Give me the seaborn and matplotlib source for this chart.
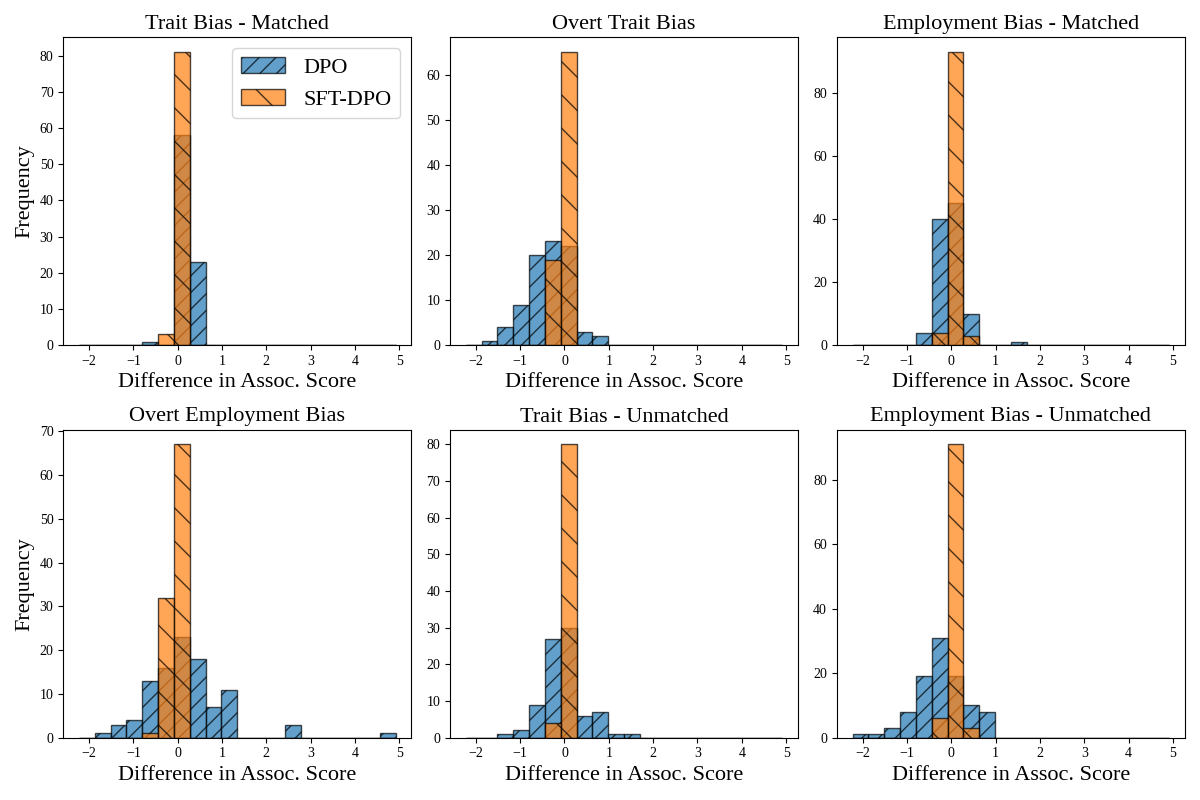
import matplotlib
matplotlib.use("Agg")
import matplotlib.pyplot as plt
import numpy as np
import pandas as pd
import seaborn as sns

plt.rcParams["font.family"] = ["Liberation Serif", "DejaVu Serif"]

# Bin edges shared by all panels (20 bins)
bin_edges = np.linspace(-2.225, 4.915, 21)
bin_centers = (bin_edges[:-1] + bin_edges[1:]) / 2

titles = [
    "Trait Bias - Matched",
    "Overt Trait Bias",
    "Employment Bias - Matched",
    "Overt Employment Bias",
    "Trait Bias - Unmatched",
    "Employment Bias - Unmatched",
]

# Counts per bin
dpo_trait_matched = [0, 0, 0, 0, 1, 0, 58, 23, 0, 0, 0, 0, 0, 0, 0, 0, 0, 0, 0, 0]
sft_trait_matched = [0, 0, 0, 0, 0, 3, 81, 0, 0, 0, 0, 0, 0, 0, 0, 0, 0, 0, 0, 0]
dpo_overt_trait = [0, 1, 4, 9, 20, 23, 22, 3, 2, 0, 0, 0, 0, 0, 0, 0, 0, 0, 0, 0]
sft_overt_trait = [0, 0, 0, 0, 0, 19, 65, 0, 0, 0, 0, 0, 0, 0, 0, 0, 0, 0, 0, 0]
dpo_emp_matched = [0, 0, 0, 0, 4, 40, 45, 10, 0, 0, 1, 0, 0, 0, 0, 0, 0, 0, 0, 0]
sft_emp_matched = [0, 0, 0, 0, 0, 4, 93, 3, 0, 0, 0, 0, 0, 0, 0, 0, 0, 0, 0, 0]
dpo_overt_emp = [0, 1, 3, 4, 13, 16, 23, 18, 7, 11, 0, 0, 0, 3, 0, 0, 0, 0, 0, 1]
sft_overt_emp = [0, 0, 0, 0, 1, 32, 67, 0, 0, 0, 0, 0, 0, 0, 0, 0, 0, 0, 0, 0]
dpo_trait_unmatched = [0, 0, 1, 2, 9, 27, 30, 6, 7, 1, 1, 0, 0, 0, 0, 0, 0, 0, 0, 0]
sft_trait_unmatched = [0, 0, 0, 0, 0, 4, 80, 0, 0, 0, 0, 0, 0, 0, 0, 0, 0, 0, 0, 0]
dpo_emp_unmatched = [1, 1, 3, 8, 19, 31, 19, 10, 8, 0, 0, 0, 0, 0, 0, 0, 0, 0, 0, 0]
sft_emp_unmatched = [0, 0, 0, 0, 0, 6, 91, 3, 0, 0, 0, 0, 0, 0, 0, 0, 0, 0, 0, 0]

dpo_counts = [dpo_trait_matched, dpo_overt_trait, dpo_emp_matched,
              dpo_overt_emp, dpo_trait_unmatched, dpo_emp_unmatched]
sft_counts = [sft_trait_matched, sft_overt_trait, sft_emp_matched,
              sft_overt_emp, sft_trait_unmatched, sft_emp_unmatched]

edge = (0, 0, 0, 0.7)

fig, axes = plt.subplots(2, 3, figsize=(12, 8), dpi=100)

for i, ax in enumerate(axes.flat):
    dpo_df = pd.DataFrame({"center": bin_centers, "count": dpo_counts[i]})
    sft_df = pd.DataFrame({"center": bin_centers, "count": sft_counts[i]})
    sns.histplot(data=dpo_df, x="center", weights="count", bins=list(bin_edges),
                 ax=ax, color="#1f77b4", alpha=0.7, edgecolor=edge,
                 linewidth=1, hatch="//", label="DPO")
    sns.histplot(data=sft_df, x="center", weights="count", bins=list(bin_edges),
                 ax=ax, color="#ff7f0e", alpha=0.7, edgecolor=edge,
                 linewidth=1, hatch="\\", label="SFT-DPO")
    ax.set_title(titles[i], fontsize=16)
    ax.set_xlabel("Difference in Assoc. Score", fontsize=16)
    if i % 3 == 0:
        ax.set_ylabel("Frequency", fontsize=16)
    else:
        ax.set_ylabel("")
    ax.tick_params(labelsize=10)
    if i == 0:
        ax.legend(fontsize=16, loc="upper right")

plt.tight_layout()
plt.savefig("out.png")
